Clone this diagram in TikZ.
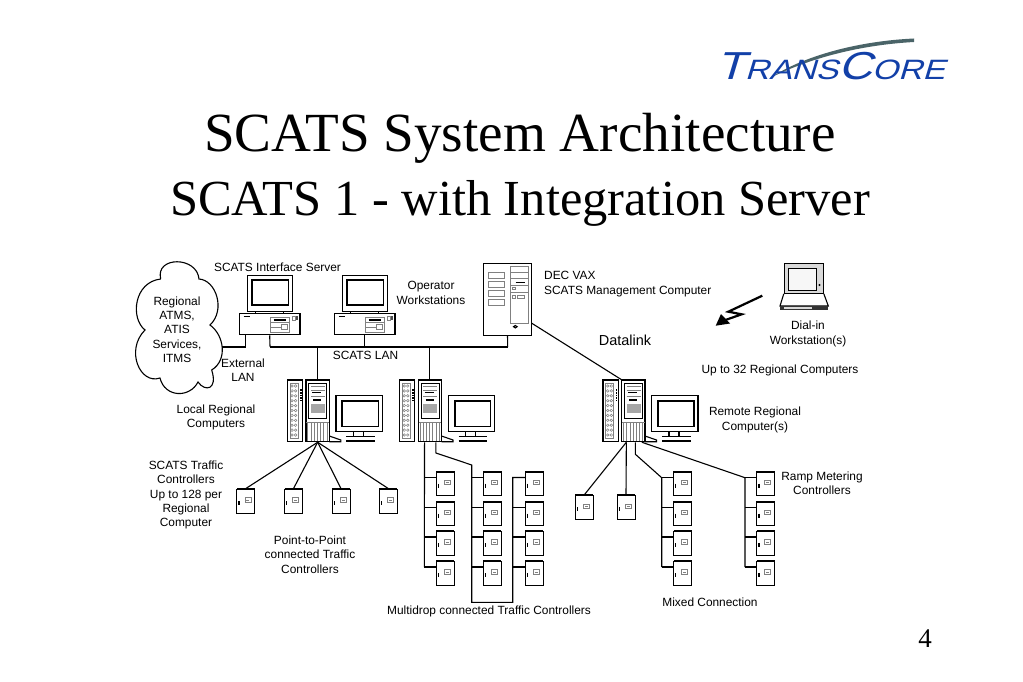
\documentclass[tikz,border=0pt]{standalone}
\usepackage{fontspec}
\setmainfont{Liberation Serif}
\newfontfamily\labelfont{Liberation Sans}
\newfontfamily\logofont[FakeStretch=1.2,FakeSlant=0.3]{Liberation Sans}
\usepackage{tikz}
\definecolor{corpblue}{HTML}{1240A8}
\definecolor{swoosh}{HTML}{4A6468}

\tikzset{
  pics/ctrl/.style={code={
    \node[draw,fill=white,line width=0.9pt,minimum width=18pt,minimum height=24pt,inner sep=0pt] (-box) at (0,0) {};
    \coordinate (-port) at (-9,-6);
    \draw[line width=2pt] (-9,-12) -- (9,-12);
    \draw[line width=1.4pt] (-6.8,0) -- (-6.8,4);
    \draw[gray,line width=0.5pt] (-1,-3.5) rectangle (5,1);
    \draw[gray,line width=0.5pt] (0.5,-1.2) -- (3.5,-1.2);
  }},
  pics/desk/.style={code={
    \node[draw,fill=white,line width=1.1pt,minimum width=60.6pt,minimum height=21.8pt,inner sep=0pt] (-base) at (0,0) {};
    \node[draw,fill=white,line width=1.1pt,minimum width=45pt,minimum height=36.7pt,inner sep=0pt] (-mon) at (0,-30.6) {};
    \draw[line width=1.1pt] (-18,-44) rectangle (18.5,-19);
    \draw[line width=2pt] (-18,-19) -- (-18,-44) -- (18.5,-44);
    \draw[line width=0.9pt] (-14,-12.2) -- (-14,-10.9) (14,-12.2) -- (14,-10.9);
    \draw[line width=1.5pt] (-26,-7.3) -- (-20,-7.3);
    \draw[gray,line width=0.5pt] (0.7,-6.5) rectangle (20,8.5);
    \draw[gray,line width=0.5pt] (0.7,-1.5) -- (20,-1.5) (0.7,3) -- (12,3);
    \draw[line width=1.1pt] (4,-4) -- (16,-4);
    \draw[gray,line width=0.5pt] (12,0.5) rectangle (18,5.5);
    \draw[gray,line width=0.5pt] (23,-8) rectangle (25.5,-4);
    \fill[black!70] (25.8,-8) rectangle (28,-4);
  }},
  pics/rack/.style={code={
    \node[draw,fill=white,line width=1.1pt,minimum width=15.4pt,minimum height=61.7pt,inner sep=0pt] (-side) at (7.7,30.85) {};
    \node[draw,fill=white,line width=1.1pt,minimum width=23.3pt,minimum height=61.7pt,inner sep=0pt] (-right) at (30.35,30.85) {};
    \node[draw,fill=white,line width=1.1pt,minimum width=46.3pt,minimum height=36pt,inner sep=0pt] (-mon) at (71.8,33.7) {};
    \draw[line width=1.1pt] (55,20.7) rectangle (91,46.7);
    \draw[line width=2pt] (55,46.7) -- (55,20.7) -- (91,20.7);
    \draw[gray,line width=0.5pt] (2.5,3) rectangle (10.5,58);
    \foreach \k in {0,...,10} {
      \draw[gray,line width=0.5pt] (4.7,{6+\k*4.9}) circle (1.3) (8.3,{6+\k*4.9}) circle (1.3);
    }
    \draw[line width=1.7pt,dash pattern=on 1.8pt off 1pt] (13.5,9) -- (13.5,21);
    \draw[line width=0.9pt] (21.5,3.5) rectangle (39.5,38.5);
    \draw[line width=1.1pt] (25,12.5) -- (34,12.5) (26,20) -- (34,20);
    \fill[gray!70] (23.5,24) rectangle (37.5,33);
    \draw[gray,line width=0.5pt] (23.5,6) -- (37.5,6) (23.5,10) -- (37.5,10) (23.5,16.5) -- (37.5,16.5);
    \draw[gray,line width=0.5pt] (19,42) -- (41.5,42);
    \foreach \k in {0,...,6} {
      \draw[gray,line width=0.7pt] ({20.5+\k*3.2},43) -- ({20.5+\k*3.2},60.5);
    }
    \draw[line width=1.1pt] (42,56) -- (53.5,60) -- (53.5,61.7) -- (42,61.7);
    \draw[line width=1.1pt] (66,51.7) -- (66,56.5) (76,51.7) -- (76,56.5);
    \draw[line width=1.1pt] (59,56.5) -- (87.5,56.5);
    \draw[line width=2pt] (59,60.5) -- (87.5,60.5);
  }},
  pics/vax/.style={code={
    \node[draw,fill=white,line width=1.1pt,minimum width=48.4pt,minimum height=71.7pt,inner sep=0pt] (-base) at (0,0) {};
    \foreach \k in {-27,-17.5,-8.5,0} {
      \draw[gray,line width=0.5pt] (-19.2,\k) rectangle (-3.2,{\k+6});
    }
    \draw[gray,line width=0.6pt] (3.2,-32.5) rectangle (21.2,24);
    \draw[gray,line width=0.5pt] (3.2,-26.5) -- (21.2,-26.5) (3.2,-20.5) -- (21.2,-20.5) (3.2,-14) -- (21.2,-14) (3.2,-7) -- (21.2,-7);
    \draw[line width=1.1pt] (8,-17) -- (17,-17);
    \draw[gray,line width=0.5pt] (5,-11.5) rectangle (8,-9.5) (5,-3.5) rectangle (8,-1) (10,-4) rectangle (16.5,-0.5);
    \draw[line width=1.1pt] (7.8,27.5) circle (1.8 and 1.2);
    \coordinate (-link) at (24.2,24);
  }}
}

\begin{document}
\begin{tikzpicture}[x=1pt,y=-1pt]
  \tikzstyle{txt} = [font=\labelfont\fontsize{11.9}{14.3}\selectfont,align=center,inner sep=0pt]
  \tikzstyle{lan} = [line width=2pt]
  \tikzstyle{wire} = [line width=1.1pt]

  \useasboundingbox (0,0) rectangle (1023,682);
  \fill[white] (0,0) rectangle (1023,682);

  % heading and logo
  \node[inner sep=0pt,font=\fontsize{55.2}{60}\selectfont] (title) at (520,138) {SCATS System Architecture};
  \node[inner sep=0pt,font=\fontsize{50.5}{56}\selectfont] (subtitle) at (520,203) {SCATS 1 - with Integration Server};
  \node[inner sep=0pt,font=\fontsize{27}{30}\selectfont] (page) at (925,639) {4};
  \fill[swoosh] (770,78) .. controls (805,55) and (860,41) .. (914,38.5) -- (914,42) .. controls (860,45) and (810,58) .. (770,78);
  \node[inner sep=0pt,text=corpblue,anchor=base west,font=\logofont] (logo) at (716,80) {\fontsize{39}{39}\selectfont T\fontsize{28}{28}\selectfont RANS\fontsize{39}{39}\selectfont C\fontsize{28}{28}\selectfont ORE};

  % cloud
  \draw[line width=1.1pt,fill=white] (160.7,279) .. controls (155,256) and (197,256) .. (199,279)
    .. controls (216,280) and (226,310) .. (210,325)
    .. controls (224,335) and (228,360) .. (211.7,370)
    .. controls (218,390) and (205,392) .. (198,382)
    .. controls (190,398) and (165,398) .. (160,378)
    .. controls (140,385) and (125,350) .. (145,330)
    .. controls (130,318) and (134,282) .. (160.7,279);

  \pic (wsa) at (269.7,324) {desk};
  \pic (wsb) at (364.7,324) {desk};
  \pic (dec) at (507.5,299.2) {vax};
  \foreach \n/\x in {ra/287.3,rb/399.5,rc/603} {
    \pic (\n) at (\x,380) {rack};
  }

  \coordinate (lanw) at (221.7,346.7);
  \coordinate (lanx) at (245.7,346.7);
  \coordinate (lany) at (270,346.7);
  \coordinate (lanz) at (507.7,346.7);
  \draw[lan] (lanw) -- (lanx);
  \draw[wire] (lanx) -- (lanx |- wsa-base.south);
  \draw[wire] (wsa-base.south) -- (lany);
  \draw[wire] (lanz) -- (dec-base.south);
  \draw[lan] (lany) -- (lanz);
  \draw[wire] (wsb-base.south) -- (wsb-base.south |- lany);
  \draw[wire] (ra-right.north) -- (ra-right.north |- lany);
  \draw[wire] (rb-right.north) -- (rb-right.north |- lany);
  \draw[wire] (dec-link) -- (rc-right.north west);

  % point to point
  \foreach \n/\x in {pa/245.8,pb/293.5,pc/341,pd/388.3} {
    \pic (\n) at (\x,501) {ctrl};
    \draw[wire] (ra-right.south) -- (\n-box.north);
  }
  \foreach \n/\x in {ma/584.3,mb/626} {
    \pic (\n) at (\x,507.3) {ctrl};
  }
  \draw[wire] ([xshift=-7pt]rc-right.south) -- (ma-box.north);
  \draw[wire] ([xshift=-7pt]rc-right.south) -- (mb-box.north);

  % multidrop columns
  \foreach \n/\x in {a/445,b/492.3,c/534,d/682.5,e/765.7} {
    \foreach \r/\y in {1/483.5,2/513.5,3/543,4/573} {
      \pic (\n\r) at (\x,\y) {ctrl};
    }
  }
  \coordinate (busa) at (424.3,477.7);
  \coordinate (busb) at (471.7,465);
  \coordinate (busc) at (512.7,602.3);
  \coordinate (busd) at (661.7,477.7);
  \coordinate (buse) at (745,477.7);
  \foreach \n in {a,b,c,d,e} {
    \foreach \r in {1,2,3,4} {
      \draw[wire] (\n\r-port) -- (\n\r-port -| bus\n);
    }
  }
  \draw[wire] ([xshift=-5.3pt]rb-right.south) -- (a4-port -| busa);
  \draw[wire] ([xshift=6pt]rb-right.south) -- ++(0,10.7) -- (busb) -- (busb |- busc) -- (busc) -- (c1-port -| busc) -- (c1-port);
  \draw[wire] ([xshift=2pt]rc-right.south) -- ++(0,12) -- (busd) -- (d4-port -| busd);
  \draw[wire] ([xshift=8.5pt]rc-right.south) -- (buse) -- (e4-port -| buse);

  % dial-in laptop
  \node[draw,fill=gray!30,line width=1.1pt,minimum width=39pt,minimum height=30pt,inner sep=0pt] (lid) at (803.8,278.3) {};
  \draw[line width=0.8pt,fill=black!3] (788,268) rectangle (816.7,290);
  \fill (819.5,285) circle (1.2);
  \draw[line width=1.1pt] (lid.south west) -- (780,306) -- (828.3,306) -- (lid.south east);
  \fill[black!80] (780,306) rectangle (828.3,310);
  \fill[gray!30] (784,306.8) rectangle (812,309);
  \coordinate (bolta) at (762.3,295.7);
  \coordinate (boltb) at (728.3,311.7);
  \coordinate (boltc) at (741.7,314.3);
  \coordinate (boltd) at (724,320.5);
  \draw[line width=2.2pt,line join=miter] (bolta) -- (boltb) -- (boltc) -- (boltd);
  \fill (715.7,325.7) -- (721,314) -- (730,323.5) -- cycle;

  \node[txt] (cloudtxt) at (177,329.5) {Regional\\ATMS,\\ATIS\\Services,\\ITMS};
  \node[txt] (iserver) at (277.5,267) {SCATS Interface Server};
  \node[txt] (oper) at (431,293) {Operator\\Workstations};
  \node[txt] (extlan) at (243,370) {External\\LAN};
  \node[txt] (scatslan) at (365.5,355) {SCATS LAN};
  \node[txt,align=left,anchor=west] (dectxt) at (544,284) {DEC VAX\\SCATS Management Computer};
  \node[txt,font=\labelfont\fontsize{14.5}{17}\selectfont] (datalink) at (625,340) {Datalink};
  \node[txt] (dialin) at (808,334) {Dial-in\\Workstation(s)};
  \node[txt] (upto) at (780,370) {Up to 32 Regional Computers};
  \node[txt] (local) at (216,417.5) {Local Regional\\Computers};
  \node[txt] (remote) at (755,420) {Remote Regional\\Computer(s)};
  \node[txt] (ramp) at (822,483) {Ramp Metering\\Controllers};
  \node[txt] (traffic) at (186,495) {SCATS Traffic\\Controllers\\Up to 128 per\\Regional\\Computer};
  \node[txt] (ptp) at (310,554.5) {Point-to-Point\\connected Traffic\\Controllers};
  \node[txt] (multi) at (489,611) {Multidrop connected Traffic Controllers};
  \node[txt] (mixed) at (710,602) {Mixed Connection};
\end{tikzpicture}
\end{document}
